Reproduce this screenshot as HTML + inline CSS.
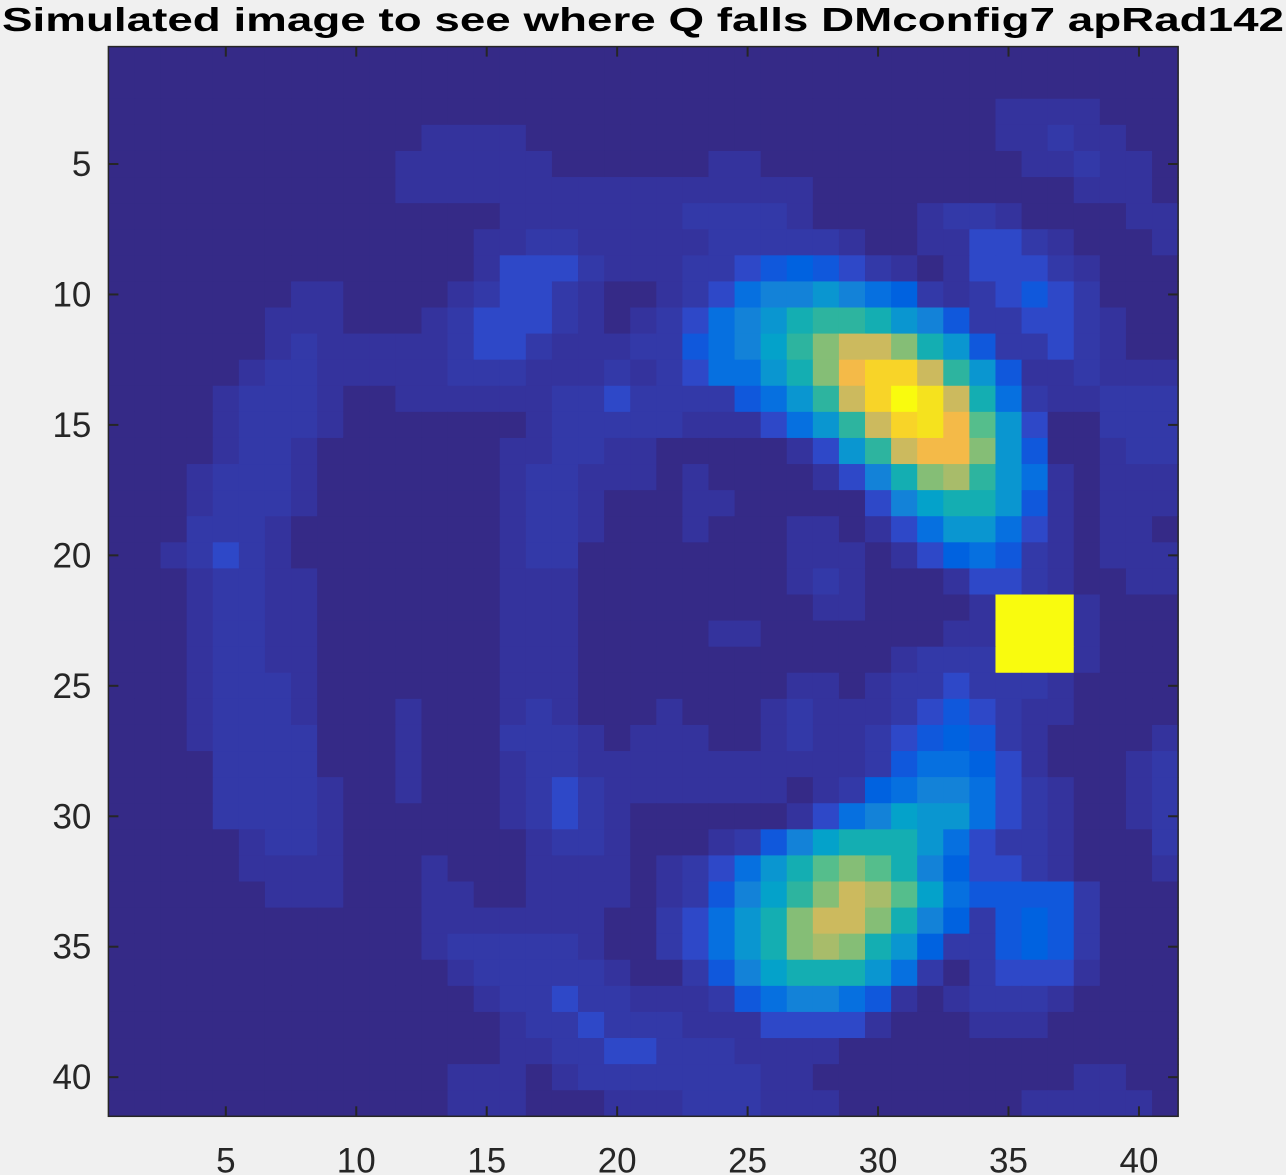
<!DOCTYPE html>
<html><head><meta charset="utf-8"><style>
html,body{margin:0;padding:0;background:#f0f0f0;}
svg{display:block;}
text{font-family:"Liberation Sans",Arial,sans-serif;fill:#262626;}
</style></head><body>
<svg id="chart" width="1286" height="1175" viewBox="0 0 1286 1175" xmlns="http://www.w3.org/2000/svg">
<rect x="0" y="0" width="1286" height="1175" fill="#f0f0f0"/>
<text x="643" y="31" text-anchor="middle" font-size="33" font-weight="bold" textLength="1282" lengthAdjust="spacingAndGlyphs" fill="#000" style="fill:#000">Simulated image to see where Q falls DMconfig7 apRad142</text>
<g id="cells"></g>
<g id="axes"></g>
</svg>
<script>
// Intensity levels (0-100) encoded per cell by character
const levelChars = ["0","1","2","3","4","5","6","7","8","9","a","b","c","d","e","f","g","h","i","j"];
const levelValues = [0,4,7,10,15,20,25,30,36,42,48,54,60,66,72,78,85,92,96,100];
const imageRows = [
"00000000000000000000"+"000000000000000000000",
"00000000000000000000"+"000000000000000000000",
"00000000000000000000"+"000000000000001111000",
"00000000000011110000"+"000000000000001121100",
"00000000000111111000"+"000110000000000112110",
"00000000000111111111"+"111111100000000001110",
"00000000000000011111"+"112222100001221000011",
"00000000000000112211"+"111222221001133210001",
"00000000000000133321"+"112234543210133321000",
"00000001100001233210"+"012367787652123432000",
"00000011100012333210"+"123678abba87422332100",
"00000012111112332111"+"224679bdffda842232100",
"00000122111112221112"+"123668adghhfb84112111",
"00001222100111111223"+"2222468bfhjifa6211222",
"00001222100000001222"+"22111368bfhigc8300222",
"00001221000000011221"+"100000138bfggd8400122",
"00012221000000012211"+"1010000137adeb8610111",
"00012221000000012210"+"001100000379aa8410111",
"00022210000000012210"+"001000110136886310110",
"00123210000000012200"+"000000111013564210111",
"00012211000000011100"+"000000121000133210011",
"00012211000000011100"+"00000001100001jjj1000",
"00012211000000011100"+"00011000000011jjj1000",
"00012211000000011100"+"00000000001222jjj1000",
"00012221000000011100"+"000000110122322210000",
"00012221000100012100"+"010001211123432110000",
"00012222000100022210"+"111001211234542100001",
"00002222000100012211"+"111111111246653100012",
"00002222100100012321"+"111111012567763210012",
"00002222100000012321"+"000000136798863210012",
"00000122100000001221"+"00012479aaa8632210002",
"00000111100010001111"+"012368acdca7533210001",
"00000011100011001111"+"012479bdfec9644442000",
"00000000000011111110"+"02368adffda7524542000",
"00000000000012222210"+"02368adeda85224542000",
"00000000000001222221"+"002479aaa862023331000",
"00000000000000122322"+"111246776410122210000",
"00000000000000012232"+"221113333100011100000",
"00000000000000011223"+"322211110000000000000",
"00000000000001110122"+"222221100000000001100",
"00000000000001110001"+"112221110000000111110"
];
const xTickLabels = [5,10,15,20,25,30,35,40];
const yTickLabels = [5,10,15,20,25,30,35,40];

// colormap stops (intensity -> colour), approximating parula
const cmapStops = [0,4,7,10,15,20,25,30,36,42,48,54,60,66,72,78,85,92,96,100];
const cmapColors = ["#352a87","#34339d","#3339a8","#2e48c8","#1058dc","#0062e0","#0670e0","#1382d8","#0a96d0","#04a2ca","#14aeb2","#2db49f","#55be8c","#85be76","#a8bc6a","#ccba5e","#f4ba48","#f8d428","#f5e21e","#f9fb0e"];

const N = 41;
const X0 = 108.4, X1 = 1178.1, Y0 = 46.6, Y1 = 1116.3;
const cw = (X1 - X0) / N, ch = (Y1 - Y0) / N;
function xScale(c){ return X0 + (c - 0.5) * cw; }
function yScale(r){ return Y0 + (r - 0.5) * ch; }
function hex(h){ return [parseInt(h.substr(1,2),16),parseInt(h.substr(3,2),16),parseInt(h.substr(5,2),16)]; }
function colorFor(v){
  if (v <= cmapStops[0]) return cmapColors[0];
  for (let i = 1; i < cmapStops.length; i++) {
    if (v <= cmapStops[i]) {
      const t = (v - cmapStops[i-1]) / (cmapStops[i] - cmapStops[i-1]);
      const a = hex(cmapColors[i-1]), b = hex(cmapColors[i]);
      return "rgb(" + a.map((x,k)=>Math.round(x + (b[k]-x)*t)).join(",") + ")";
    }
  }
  return cmapColors[cmapColors.length-1];
}
const NS = "http://www.w3.org/2000/svg";
const cells = document.getElementById("cells");
imageRows.forEach((row, ri) => {
  for (let ci = 0; ci < row.length; ci++) {
    const v = levelValues[levelChars.indexOf(row[ci])];
    const r = document.createElementNS(NS, "rect");
    r.setAttribute("x", (xScale(ci+1) - cw/2).toFixed(2));
    r.setAttribute("y", (yScale(ri+1) - ch/2).toFixed(2));
    r.setAttribute("width", (cw + 0.6).toFixed(2));
    r.setAttribute("height", (ch + 0.6).toFixed(2));
    r.setAttribute("fill", colorFor(v));
    
    
    cells.appendChild(r);
  }
});
const axes = document.getElementById("axes");
const box = document.createElementNS(NS, "rect");
box.setAttribute("x", X0); box.setAttribute("y", Y0);
box.setAttribute("width", X1 - X0); box.setAttribute("height", Y1 - Y0);
box.setAttribute("fill", "none"); box.setAttribute("stroke", "#262626"); box.setAttribute("stroke-width", "1.5");


axes.appendChild(box);
function line(x1,y1,x2,y2,name){
  const l = document.createElementNS(NS, "line");
  l.setAttribute("x1",x1); l.setAttribute("y1",y1); l.setAttribute("x2",x2); l.setAttribute("y2",y2);
  l.setAttribute("stroke","#262626"); l.setAttribute("stroke-width","2");
  
  
  axes.appendChild(l);
}
xTickLabels.forEach(v => {
  const x = xScale(v);
  line(x, Y1, x, Y1 - 10, 'x-tick');
  line(x, Y0, x, Y0 + 10, 'x-tick-top');
  const t = document.createElementNS(NS, "text");
  t.setAttribute("x", x); t.setAttribute("y", Y1 + 56);
  t.setAttribute("text-anchor", "middle"); t.setAttribute("font-size", "35");
  t.textContent = v;
  
  
  axes.appendChild(t);
});
yTickLabels.forEach(v => {
  const y = yScale(v);
  line(X0, y, X0 + 10, y, 'y-tick');
  line(X1, y, X1 - 10, y, 'y-tick-right');
  const t = document.createElementNS(NS, "text");
  t.setAttribute("x", X0 - 17); t.setAttribute("y", y + 12);
  t.setAttribute("text-anchor", "end"); t.setAttribute("font-size", "35");
  t.textContent = v;
  
  
  axes.appendChild(t);
});
</script>
</body></html>
